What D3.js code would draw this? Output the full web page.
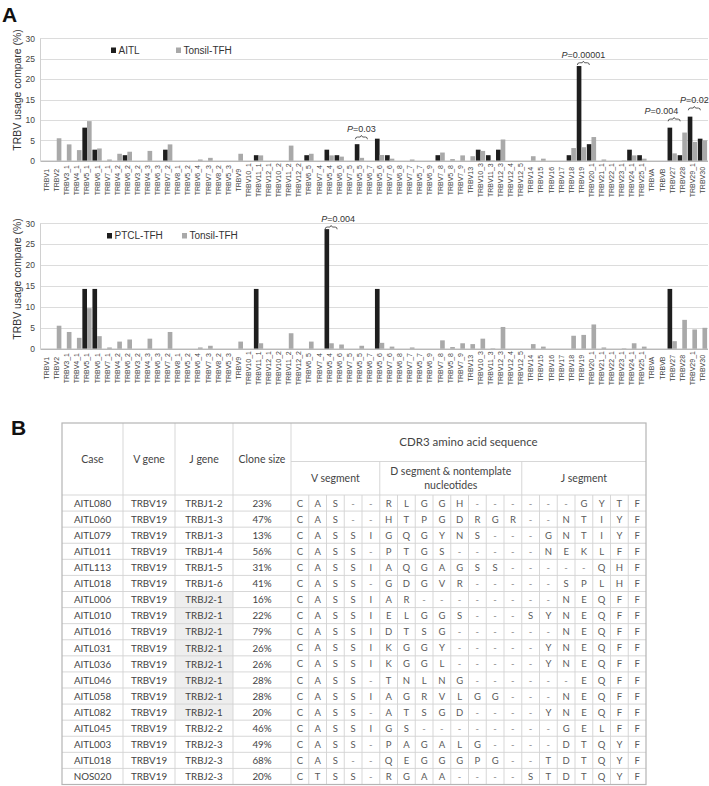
<!DOCTYPE html>
<html><head><meta charset="utf-8">
<script src="https://cdn.jsdelivr.net/npm/d3@7"></script>
<style>body{margin:0;background:#fff}svg{display:block}</style>
</head><body>
<svg id="fig" width="709" height="786"></svg>
<script>
// ---------------- DATA ----------------
const categories = ["TRBV1","TRBV2","TRBV3_1","TRBV4_1","TRBV5_1","TRBV6_1","TRBV7_1","TRBV4_2","TRBV6_2","TRBV3_2",
  "TRBV4_3","TRBV6_3","TRBV7_2","TRBV8_1","TRBV5_2","TRBV6_4","TRBV7_3","TRBV8_2","TRBV5_3","TRBV9",
  "TRBV10_1","TRBV11_1","TRBV12_1","TRBV10_2","TRBV11_2","TRBV12_2","TRBV6_5","TRBV7_4","TRBV5_4","TRBV6_6",
  "TRBV7_5","TRBV5_5","TRBV6_7","TRBV5_6","TRBV7_6","TRBV6_8","TRBV7_7","TRBV5_7","TRBV6_9","TRBV7_8",
  "TRBV5_8","TRBV7_9","TRBV13","TRBV10_3","TRBV11_3","TRBV12_3","TRBV12_4","TRBV12_5","TRBV14","TRBV15",
  "TRBV16","TRBV17","TRBV18","TRBV19","TRBV20_1","TRBV21_1","TRBV22_1","TRBV23_1","TRBV24_1","TRBV25_1",
  "TRBVA","TRBVB","TRBV27","TRBV28","TRBV29_1","TRBV30"];
const aitlValues = [0,0,0,0,8.1,2.7,0,0,1.35,0,
  0,0,2.7,0,0,0,0,0,0,0,
  0,1.35,0,0,0,0,1.35,0,2.7,1.35,
  0,4.05,0,5.4,1.35,0,0,0,0,1.35,
  0,0,0,2.7,1.35,2.7,0,0,0,0,
  0,0,1.35,23.2,4.05,0,0,0,2.7,1.35,
  0,0,8.1,1.35,10.8,5.4];
const tonsilValues = [0,5.5,4.0,2.6,9.7,3.0,0.3,1.7,2.2,0,
  2.4,0,4.0,0,0,0.3,0.7,0,0,1.7,
  0,1.3,0,0,3.7,0,1.7,0,1.3,1.0,
  0,0.7,0,1.4,0.5,0,0.3,0,0,2.0,
  0.4,1.3,1.1,2.4,0.1,5.2,0,0,1.1,0.5,
  0,0,3.1,3.3,5.8,0.3,0,0.1,1.3,0.5,
  0,0,1.8,6.9,4.6,5.0];
const ptclValues = [0,0,0,0,14.3,14.3,0,0,0,0,
  0,0,0,0,0,0,0,0,0,0,
  0,14.3,0,0,0,0,0,0,28.6,0,
  0,0,0,14.3,0,0,0,0,0,0,
  0,0,0,0,0,0,0,0,0,0,
  0,0,0,0,0,0,0,0,0,0,
  0,0,14.3,0,0,0];
const yTickValues = [0,5,10,15,20,25,30];
const topSeriesNames = ["AITL","Tonsil-TFH"];
const bottomSeriesNames = ["PTCL-TFH","Tonsil-TFH"];
const yAxisTitle = "TRBV usage compare (%)";
// p-value annotations: category, bracket level (in %), value text
const topPAnnotations = [
  {cat:"TRBV5_5", level:5.8, p:"0.03", align:"middle"},
  {cat:"TRBV19", level:24.0, p:"0.00001", align:"middle"},
  {cat:"TRBV27", level:10.2, p:"0.004", align:"end"},
  {cat:"TRBV29_1", level:12.9, p:"0.02", align:"middle"}];
const bottomPAnnotations = [
  {cat:"TRBV5_4", level:29.1, p:"0.004", align:"start"}];

// table
const tableHeaders = ["Case","V gene","J gene","Clone size"];
const cdr3Title = "CDR3 amino acid sequence";
const segmentHeaders = [["V segment"],["D segment & nontemplate","nucleotides"],["J segment"]];
const cases = ["AITL080","AITL060","AITL079","AITL011","AITL113","AITL018","AITL006","AITL010","AITL016",
  "AITL031","AITL036","AITL046","AITL058","AITL082","AITL045","AITL003","AITL018","NOS020"];
const vGenes = ["TRBV19","TRBV19","TRBV19","TRBV19","TRBV19","TRBV19","TRBV19","TRBV19","TRBV19",
  "TRBV19","TRBV19","TRBV19","TRBV19","TRBV19","TRBV19","TRBV19","TRBV19","TRBV19"];
const jGenes = ["TRBJ1-2","TRBJ1-3","TRBJ1-3","TRBJ1-4","TRBJ1-5","TRBJ1-6","TRBJ2-1","TRBJ2-1","TRBJ2-1",
  "TRBJ2-1","TRBJ2-1","TRBJ2-1","TRBJ2-1","TRBJ2-1","TRBJ2-2","TRBJ2-3","TRBJ2-3","TRBJ2-3"];
const cloneSizes = ["23%","47%","13%","56%","31%","41%","16%","22%","79%","26%","26%","28%","28%","20%","46%","49%","68%","20%"];
const vSegments = ["CAS--","CAS--","CASSI","CASS-","CASSI","CASS-","CASSI","CASSI","CASSI",
  "CASSI","CASSI","CASS-","CASSI","CASS-","CASSI","CASS-","CAS--","CTSS-"];
const dSegments = ["RLGGH---","HTPGDRGR","GQGYNS--","PTGS----","AQGAGSS-","GDGVR---","AR------","ELGGS---","DTSG----",
  "KGGY----","KGGL----","TNLNG---","AGRVLGG-","ATSGD---","GS------","PAGALG--","QEGGGPG-","RGAA----"];
const jSegments = ["---GYTF","--NTIYF","-GNTIYF","-NEKLFF","----QHF","--SPLHF","--NEQFF","SYNEQFF","--NEQFF",
  "-YNEQFF","-YNEQFF","---EQFF","--NEQFF","-YNEQFF","--GELFF","--DTQYF","-TDTQYF","STDTQYF"];

// ---------------- DRAW ----------------
const svg = d3.select("#fig");
const FONT = "'Liberation Sans', Arial, sans-serif";
const BLACK = "#1e1e1e", GRAY = "#a9a9a9";

svg.append("text").attr("x",2).attr("y",22).attr("font-family",FONT).attr("font-weight","bold")
  .attr("font-size",21).attr("fill","#111").text("A");
svg.append("text").attr("x",11).attr("y",435).attr("font-family",FONT).attr("font-weight","bold")
  .attr("font-size",21).attr("fill","#111").text("B");

function bracketPath(x0, x1, y) {
  const xm = (x0 + x1) / 2;
  return `M${x0},${y+2.2} Q${x0},${y} ${x0+2},${y} L${xm-1.2},${y} L${xm},${y-1.6} L${xm+1.2},${y} L${x1-2},${y} Q${x1},${y} ${x1},${y+2.2}`;
}

function drawChart(opt) {
  const g = svg.append("g");
  const x = d3.scaleBand().domain(categories).range([41.6, 707.5]);
  const sub = d3.scaleBand().domain([0,1]).range([0.4, x.bandwidth() - 0.4]);
  const y = d3.scaleLinear().domain([0,30]).range([opt.bottom, opt.top]);

  // gridlines
  g.selectAll("line.grid").data(yTickValues.filter(v => v > 0)).join("line")
    .attr("x1", 40.5).attr("x2", 708).attr("y1", d => Math.round(y(d)) + 0.5).attr("y2", d => Math.round(y(d)) + 0.5)
    .attr("stroke", "#dcdcdc").attr("stroke-width", 1);
  g.append("line").attr("x1",40.5).attr("x2",40.5).attr("y1",y(30)).attr("y2",y(0))
    .attr("stroke","#d0d0d0");

  // y axis labels
  const ax = g.append("g").attr("transform","translate(40,0)")
    .call(d3.axisLeft(y).tickValues(yTickValues).tickSize(0).tickPadding(5).tickFormat(d3.format("d")));
  ax.select(".domain").remove();
  ax.selectAll("text").attr("font-family",FONT).attr("font-size",8.5).attr("fill","#444");

  // title
  g.append("text").attr("transform",`translate(21,${opt.titleY}) rotate(-90)`)
    .attr("text-anchor","middle").attr("font-family",FONT).attr("font-size",10.4).attr("fill","#333")
    .text(yAxisTitle);

  // bars
  const series = [opt.black, opt.gray];
  const colors = [BLACK, GRAY];
  series.forEach((vals, si) => {
    g.selectAll(null).data(categories.map((c,i) => ({c, v: vals[i]})).filter(d => d.v > 0)).join("rect")
      .attr("x", d => x(d.c) + sub(si)).attr("width", sub.bandwidth())
      .attr("y", d => y(d.v)).attr("height", d => y(0) - y(d.v))
      .attr("fill", colors[si]);
  });

  // baseline
  g.append("line").attr("x1",40.5).attr("x2",708).attr("y1",y(0)+0.5).attr("y2",y(0)+0.5)
    .attr("stroke","#9a9a9a");

  // x labels
  g.selectAll("text.xl").data(categories).join("text")
    .attr("transform", d => `translate(${x(d) + x.bandwidth()/2},${y(0) + 19.5}) rotate(-90)`)
    .attr("dy","0.35em").attr("text-anchor","middle")
    .attr("font-family",FONT).attr("font-size",7).attr("fill","#444").text(d => d);

  // legend
  opt.names.forEach((n, i) => {
    const lx = opt.legendX[i];
    g.append("rect").attr("x", lx).attr("y", opt.legendY - 6).attr("width",5).attr("height",5.5).attr("fill", colors[i]);
    g.append("text").attr("x", lx + 7.5).attr("y", opt.legendY).attr("font-family",FONT).attr("font-size",10)
      .attr("fill","#333").text(n);
  });

  // p annotations
  opt.pvals.forEach(a => {
    const cx = x(a.cat) + x.bandwidth()/2 + 2;
    const x0 = cx - 6, x1 = cx + 6, by = y(a.level);
    g.append("path").attr("d", bracketPath(x0, x1, by)).attr("fill","none").attr("stroke","#333").attr("stroke-width",0.8);
    const tx = a.align === "end" ? x1 - 2 : a.align === "start" ? x0 - 4 : cx;
    const t = g.append("text").attr("x", tx).attr("y", by - 5).attr("text-anchor", a.align)
      .attr("font-family",FONT).attr("font-size",9).attr("fill","#333");
    t.append("tspan").attr("font-style","italic").text("P");
    t.append("tspan").text("=" + a.p);
  });
}

drawChart({top: 38.3, bottom: 160.7, black: aitlValues, gray: tonsilValues, names: topSeriesNames,
  legendX: [111, 176], legendY: 53.5, titleY: 90, pvals: topPAnnotations});
drawChart({top: 223.3, bottom: 348.7, black: ptclValues, gray: tonsilValues, names: bottomSeriesNames,
  legendX: [107, 182], legendY: 239, titleY: 279, pvals: bottomPAnnotations});

// ---------------- TABLE ----------------
const TF = "Lato, 'Open Sans', sans-serif";
const tg = svg.append("g");
const T = {left: 62, right: 646, top: 423, headMid: 461.5, headBottom: 495, bottom: 784.5};
const infoEdges = [62, 123, 175, 233, 291];
const seqX = d3.scaleBand().domain(d3.range(20)).range([291, T.right]);
const rowY = d3.scaleBand().domain(d3.range(cases.length)).range([T.headBottom, T.bottom]);
const segStarts = [0, 5, 13, 20];

// shaded J gene cells
jGenes.forEach((j, i) => {
  if (j === "TRBJ2-1") tg.append("rect").attr("x", infoEdges[2]).attr("y", rowY(i))
    .attr("width", infoEdges[3]-infoEdges[2]).attr("height", rowY.bandwidth()).attr("fill","#eeeeee");
});

const lineC = "#d3d3d3";
function hline(x1,x2,y){ tg.append("line").attr("x1",x1).attr("x2",x2).attr("y1",y).attr("y2",y).attr("stroke",lineC).attr("stroke-width",0.9); }
function vline(x,y1,y2){ tg.append("line").attr("x1",x).attr("x2",x).attr("y1",y1).attr("y2",y2).attr("stroke",lineC).attr("stroke-width",0.9); }

hline(infoEdges[4], T.right, T.headMid);
d3.range(cases.length).forEach(i => hline(T.left, T.right, rowY(i)));
infoEdges.slice(1).forEach(xe => vline(xe, T.top, T.bottom));
segStarts.slice(1,3).forEach(s => vline(seqX(s), T.headMid, T.bottom));
d3.range(1,20).filter(s => !segStarts.includes(s)).forEach(s => vline(seqX(s), T.headBottom, T.bottom));
tg.append("rect").attr("x",T.left).attr("y",T.top).attr("width",T.right-T.left).attr("height",T.bottom-T.top)
  .attr("fill","none").attr("stroke","#b5b5b5").attr("stroke-width",1.2);

const headY = (T.top + T.headBottom)/2;
tableHeaders.forEach((h,i) => {
  tg.append("text").attr("x",(infoEdges[i]+infoEdges[i+1])/2).attr("y",headY).attr("dy","0.35em")
    .attr("text-anchor","middle").attr("font-family",TF).attr("font-size",10.5).attr("fill","#444").text(h);
});
tg.append("text").attr("x",(infoEdges[4]+T.right)/2).attr("y",(T.top+T.headMid)/2).attr("dy","0.35em")
  .attr("text-anchor","middle").attr("font-family",TF).attr("font-size",11.5).attr("fill","#444").text(cdr3Title);
segmentHeaders.forEach((lines, k) => {
  const cx = (seqX(segStarts[k]) + (segStarts[k+1] < 20 ? seqX(segStarts[k+1]) : T.right)) / 2;
  const cy = (T.headMid + T.headBottom)/2;
  lines.forEach((ln, li) => {
    tg.append("text").attr("x",cx).attr("y", cy + (li - (lines.length-1)/2) * 13.5).attr("dy","0.35em")
      .attr("text-anchor","middle").attr("font-family",TF).attr("font-size",10.5).attr("fill","#444").text(ln);
  });
});

const rowsInfo = cases.map((c,i) => [c, vGenes[i], jGenes[i], cloneSizes[i]]);
rowsInfo.forEach((r,i) => {
  r.forEach((v,k) => {
    tg.append("text").attr("x",(infoEdges[k]+infoEdges[k+1])/2).attr("y",rowY(i)+rowY.bandwidth()/2).attr("dy","0.38em")
      .attr("text-anchor","middle").attr("font-family",TF).attr("font-size",9.8).attr("fill","#444").text(v);
  });
  const seq = (vSegments[i] + dSegments[i] + jSegments[i]).split("");
  seq.forEach((ch,k) => {
    tg.append("text").attr("x",seqX(k)+seqX.bandwidth()/2).attr("y",rowY(i)+rowY.bandwidth()/2).attr("dy","0.38em")
      .attr("text-anchor","middle").attr("font-family",TF).attr("font-size",9.5)
      .attr("fill", ch === "-" ? "#888" : "#5a5a5a").text(ch);
  });
});
</script>
</body></html>
